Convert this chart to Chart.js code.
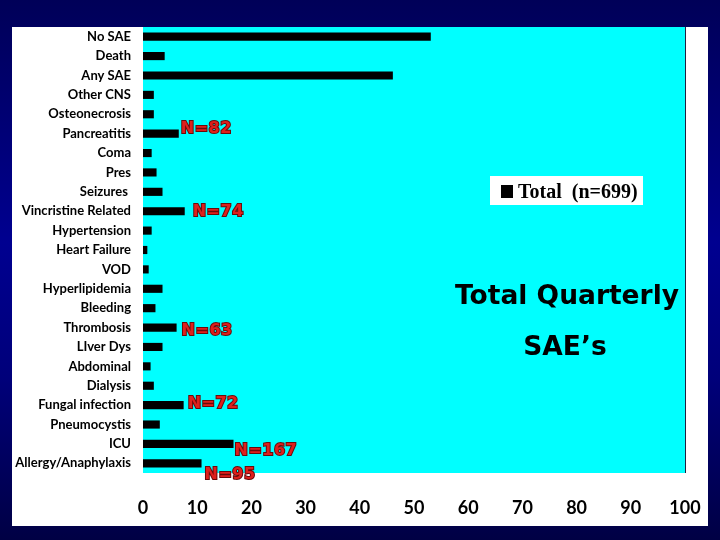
<!DOCTYPE html>
<html>
<head>
<meta charset="utf-8">
<script src="https://cdn.jsdelivr.net/npm/chart.js@4"></script>
<style>
  html, body { margin: 0; padding: 0; width: 720px; height: 540px; overflow: hidden; }
  body { background: linear-gradient(to bottom, #000058 0%, #000090 45%, #00007a 70%, #000044 100%); position: relative; }
  #wrap { position: absolute; left: 12px; top: 27px; width: 696px; height: 499px; background: #ffffff; }
  canvas { display: block; }
</style>
</head>
<body>
<div id="wrap"><canvas id="c" width="696" height="499"></canvas></div>
<script>
const categories = ['No SAE','Death','Any SAE','Other CNS','Osteonecrosis','Pancreatitis','Coma','Pres','Seizures ','Vincristine Related','Hypertension','Heart Failure','VOD','Hyperlipidemia','Bleeding','Thrombosis','LIver Dys','Abdominal','Dialysis','Fungal infection','Pneumocystis','ICU','Allergy/Anaphylaxis'];
const totalValues = [53.1, 4.0, 46.1, 2.0, 2.0, 6.6, 1.6, 2.5, 3.6, 7.7, 1.6, 0.8, 1.05, 3.6, 2.3, 6.2, 3.6, 1.4, 2.0, 7.5, 3.1, 16.7, 10.8];
const seriesLabel = 'Total  (n=699)';
const xTicks = [0, 10, 20, 30, 40, 50, 60, 70, 80, 90, 100];
const noteLabels = ['N=82', 'N=74', 'N=63', 'N=72', 'N=167', 'N=95'];
const noteCategories = ['Pancreatitis', 'Vincristine Related', 'Thrombosis', 'Fungal infection', 'ICU', 'Allergy/Anaphylaxis'];
const titleLines = ['Total Quarterly', 'SAE\u2019s'];

// pixel offsets for the notes (style only)
const noteOffsets = [[2, -5], [8, 1], [5, 3], [4, -1], [1, 7], [3, 12]];

function noPad(s) { s.paddingTop = 0; s.paddingBottom = 0; s.paddingLeft = 0; s.paddingRight = 0; }

const decor = {
  id: 'decor',
  beforeDatasetsDraw(chart) {
    const { ctx, chartArea: a } = chart;
    ctx.save();
    ctx.fillStyle = '#00ffff';
    ctx.fillRect(a.left, a.top, a.right - a.left, a.bottom - a.top);
    ctx.strokeStyle = '#202040';
    ctx.lineWidth = 1;
    ctx.beginPath();
    ctx.moveTo(Math.round(a.right) + 0.5, a.top);
    ctx.lineTo(Math.round(a.right) + 0.5, a.bottom);
    ctx.stroke();
    ctx.restore();
  },
  afterDatasetsDraw(chart) {
    const { ctx, chartArea: a, scales } = chart;
    const xs = scales.x, ys = scales.y;
    ctx.save();
    // N= notes
    ctx.font = 'bold 16px "DejaVu Sans"';
    ctx.textAlign = 'left';
    ctx.textBaseline = 'middle';
    ctx.letterSpacing = '0.5px';
    noteLabels.forEach((t, i) => {
      const idx = categories.findIndex(c => c.trim() === noteCategories[i]);
      const x = xs.getPixelForValue(totalValues[idx]) + noteOffsets[i][0];
      const y = ys.getPixelForValue(idx) + noteOffsets[i][1];
      ctx.lineWidth = 2;
      ctx.strokeStyle = '#6a0a0a';
      ctx.strokeText(t, x, y);
      ctx.fillStyle = '#de201c';
      ctx.fillText(t, x, y);
    });
    ctx.letterSpacing = '0px';
    // legend box
    const lx = a.right - 195, ly = a.top + 149;
    ctx.fillStyle = '#ffffff';
    ctx.fillRect(lx, ly, 153, 29);
    ctx.fillStyle = '#000000';
    ctx.fillRect(lx + 11, ly + 9, 12, 13);
    ctx.font = 'bold 20px "Liberation Serif"';
    ctx.textBaseline = 'alphabetic';
    ctx.fillText(chart.data.datasets[0].label, lx + 28, ly + 22);
    // title text
    ctx.font = 'bold 26.5px "DejaVu Sans"';
    ctx.textAlign = 'center';
    ctx.textBaseline = 'middle';
    ctx.fillStyle = '#000000';
    ctx.fillText(titleLines[0], a.right - 118, a.top + 270);
    ctx.fillText(titleLines[1], a.right - 120, a.top + 321);
    ctx.restore();
  }
};

new Chart(document.getElementById('c'), {
  type: 'bar',
  data: {
    labels: categories,
    datasets: [{
      label: seriesLabel,
      data: totalValues,
      backgroundColor: '#000000',
      borderWidth: 0,
      categoryPercentage: 1,
      barPercentage: 0.42
    }]
  },
  options: {
    indexAxis: 'y',
    responsive: false,
    devicePixelRatio: 1,
    animation: false,
    layout: { padding: { left: 0, top: 0, right: 23, bottom: 0 } },
    plugins: { legend: { display: false }, tooltip: { enabled: false } },
    scales: {
      x: {
        min: 0, max: 100,
        afterBuildTicks(s) { s.ticks = xTicks.map(v => ({ value: v })); },
        afterFit(s) { s.height = 53; noPad(s); },
        grid: { display: false, drawTicks: false },
        border: { display: false },
        ticks: { color: '#000000', padding: 24, font: { family: 'Lato', weight: 'bold', size: 18 } }
      },
      y: {
        afterFit(s) { s.width = 131; noPad(s); },
        grid: { display: false, drawTicks: false },
        border: { display: false },
        ticks: { color: '#000000', padding: 12, autoSkip: false, font: { family: 'Lato', weight: 'bold', size: 13 } }
      }
    }
  },
  plugins: [decor]
});
</script>
</body>
</html>
